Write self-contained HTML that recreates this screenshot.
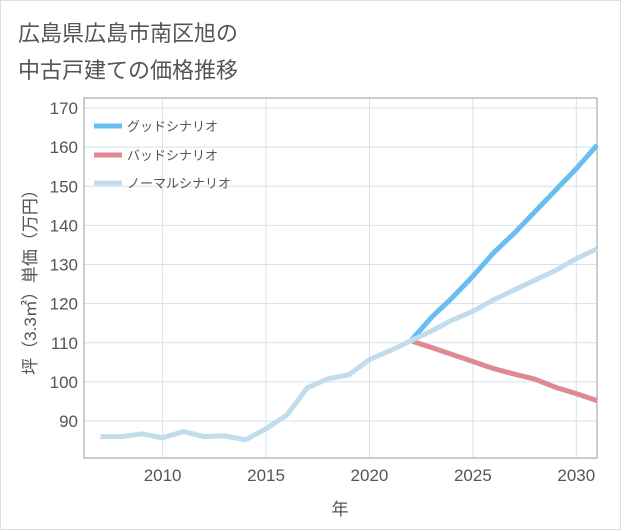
<!DOCTYPE html>
<html><head><meta charset="utf-8"><style>
body{margin:0;background:#fff;}
.wrap{width:619px;height:528px;border:1px solid #ddd;position:relative;font-family:"Liberation Sans","Noto Sans CJK JP",sans-serif;}
svg text{font-family:"Liberation Sans","Noto Sans CJK JP",sans-serif;}
</style></head><body>
<div class="wrap">
<svg id="c" width="621" height="530" style="position:absolute;left:-1px;top:-1px">
<text x="18" y="41" font-size="22" fill="#555">広島県広島市南区旭の</text>
<text x="18" y="78" font-size="22" fill="#555">中古戸建ての価格推移</text>
<g id="grid"></g><g id="axes"></g><g id="series"></g><g id="legend"></g>
<text x="340" y="515" font-size="17" fill="#555" text-anchor="middle">年</text>
<text transform="translate(36,278) rotate(-90)" font-size="17" fill="#555" text-anchor="middle">坪（3.3㎡）単価（万円）</text>
</svg></div>
<script>
const years=[2007,2008,2009,2010,2011,2012,2013,2014,2015,2016,2017,2018,2019,2020,2021,2022,2023,2024,2025,2026,2027,2028,2029,2030,2031];
const normalVals=[86,86,86.7,85.7,87.3,86,86.2,85.2,88,91.5,98.5,100.8,101.8,105.7,108,110.5,113,115.8,118,121,123.5,126,128.5,131.5,134];
const futureYears=[2022,2023,2024,2025,2026,2027,2028,2029,2030,2031];
const goodVals=[110.5,116.5,121.5,127,133,138,143.5,149,154.5,160.5];
const badVals=[110.5,108.8,107,105.2,103.4,102,100.7,98.6,97,95.2];
const yTicks=[90,100,110,120,130,140,150,160,170];
const xTicks=[2010,2015,2020,2025,2030];
const L=84,R=597,T=98,B=458;
const x=v=>L+(v-2006.2)/(2031-2006.2)*(R-L);
const y=v=>421-(v-90)*3.9125;
const NS="http://www.w3.org/2000/svg";
function mk(p,t,a){const e=document.createElementNS(NS,t);for(const k in a)e.setAttribute(k,a[k]);p.appendChild(e);return e;}
const grid=document.getElementById('grid'),axes=document.getElementById('axes'),ser=document.getElementById('series'),leg=document.getElementById('legend');
yTicks.forEach(v=>{const l=mk(grid,'line',{x1:L,x2:R,y1:y(v),y2:y(v),stroke:'#d5e2ee','stroke-width':1});


const t=mk(axes,'text',{x:78,y:y(v)+6,'font-size':17,fill:'#555','text-anchor':'end'});t.textContent=v;

});
xTicks.forEach(v=>{const l=mk(grid,'line',{x1:x(v),x2:x(v),y1:T,y2:B,stroke:'#d5e2ee','stroke-width':1});


const t=mk(axes,'text',{x:x(v),y:481,'font-size':17,fill:'#555','text-anchor':'middle'});t.textContent=v;

});
const fr=mk(axes,'rect',{x:L,y:T,width:R-L,height:B-T,fill:'none',stroke:'#999','stroke-width':1});


function line(xs,vs,c,n){const p=mk(ser,'polyline',{points:xs.map((a,i)=>x(a)+','+y(vs[i])).join(' '),fill:'none',stroke:c,'stroke-width':5,'stroke-linejoin':'round'});

}
line(futureYears,badVals,'#de8a90','bad-scenario-line');
line(futureYears,goodVals,'#6abdf0','good-scenario-line');
line(years,normalVals,'#c2dcec','normal-scenario-line');
[['グッドシナリオ','#6abdf0',126],['バッドシナリオ','#de8a90',155],['ノーマルシナリオ','#c2dcec',183]].forEach(([n,c,yy])=>{
const g=mk(leg,'g',{});


mk(g,'line',{x1:94,x2:122,y1:yy,y2:yy,stroke:c,'stroke-width':5});
const t=mk(g,'text',{x:127,y:yy+5,'font-size':13,fill:'#555'});t.textContent=n;});
</script>
</body></html>
